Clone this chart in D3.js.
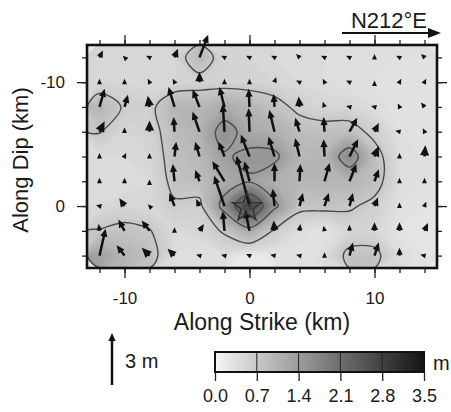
<!DOCTYPE html>
<html>
<head>
<meta charset="utf-8">
<script src="https://cdn.jsdelivr.net/npm/d3@7"></script>
<style>
    body { margin: 0; background: #fff; }
    svg { display: block; font-family: 'Liberation Sans', Arial, Helvetica, sans-serif; }
</style>
</head>
<body>
<div id="chart"></div>
<script>
// grid nodes (km)
const strikeKm = [-12, -10, -8, -6, -4, -2, 0, 2, 4, 6, 8, 10, 12, 14];
const dipKm = [-12, -10, -8, -6, -4, -2, 0, 2, 4];

// slip vector components (m), rows follow dipKm, columns follow strikeKm
const slipStrike = [
    [0.2, -0.1, -0.2, 0.2, 0.5, -0.2, -0.2, -0.2, -0.2, -0.2, -0.2, 0, -0.2, -0.2],
    [0, 0, -0.1, -0.1, 0, 0, 0, 0.1, -0.2, -0.1, -0.2, 0, 0.1, 0.1],
    [0.3, 0.2, -0.1, -0.35, -0.4, -0.3, -0.05, -0.05, -0.05, -0.1, -0.2, -0.2, -0.1, -0.2],
    [0.3, 0, 0, -0.05, -0.4, -0.1, -0.05, -0.3, -0.25, -0.05, 0.45, 0.25, -0.25, -0.1],
    [0, 0.1, 0, 0.1, -0.25, -0.35, -0.5, -0.35, -0.25, -0.05, 0.5, 0.25, 0, 0.05],
    [0, 0, 0, -0.1, -0.25, -0.7, -0.3, 0, 0.05, 0.3, 0.4, 0.25, 0, 0],
    [-0.2, -0.3, -0.1, -0.3, -0.2, -0.6, -0.75, -0.1, 0.2, 0.25, 0.2, 0.2, 0, 0.1],
    [-0.05, -0.35, -0.45, 0, 0.25, -0.1, -0.25, -0.05, 0.05, -0.05, 0, 0, 0, 0.2],
    [0.35, -0.45, -0.45, -0.4, -0.2, -0.2, -0.2, -0.25, -0.2, 0, 0.2, 0.25, 0, -0.25],
];
const slipDip = [
    [-0.4, -0.1, -0.1, -0.5, -1.3, -0.1, -0.1, -0.1, -0.2, -0.1, -0.1, -0.2, -0.1, -0.2],
    [-0.2, -0.2, -0.2, -0.2, -0.6, -0.2, -0.2, -0.3, -0.1, -0.2, -0.1, -0.1, -0.2, -0.2],
    [-1.05, -0.7, -0.65, -1.15, -1.0, -1.15, -1.05, -0.75, -0.6, -0.3, -0.05, -0.05, -0.2, -0.25],
    [-0.6, -0.25, -0.65, -0.85, -1.15, -1.6, -1.35, -1.25, -0.8, -0.85, -0.8, -0.5, -0.05, -0.2],
    [-0.2, -0.2, -0.2, -0.85, -0.85, -0.85, -1.25, -1.15, -1.05, -1.0, -1.0, -0.6, -0.2, -0.65],
    [-0.2, -0.2, -0.1, -1.0, -0.65, -1.15, -1.15, -1.05, -1.0, -1.05, -1.0, -0.7, -0.2, -0.2],
    [-0.05, -0.45, -0.1, -0.75, -0.4, -1.75, -2.9, -1.0, -0.75, -0.75, -0.75, -0.5, -0.2, -0.25],
    [-0.4, -0.65, -0.6, -0.2, -0.4, -1.15, -1.2, -0.6, -0.4, -0.3, -0.35, -0.5, -0.5, -0.45],
    [-1.55, -0.6, -0.45, -0.4, -0.05, -0.05, -0.1, -0.05, -0.05, -0.2, -0.75, -0.75, -0.45, -0.05],
];

// slip amount used for the shading (m)
const slipAmount = [
    [0.5, 0.45, 0.45, 0.5, 0.95, 0.5, 0.5, 0.45, 0.4, 0.4, 0.35, 0.35, 0.35, 0.35],
    [0.45, 0.5, 0.45, 0.5, 0.55, 0.55, 0.55, 0.5, 0.45, 0.4, 0.35, 0.35, 0.3, 0.3],
    [1.0, 0.65, 0.6, 1.0, 1.0, 1.15, 1.0, 0.85, 0.6, 0.5, 0.5, 0.4, 0.3, 0.3],
    [0.72, 0.5, 0.55, 0.9, 1.05, 1.6, 1.2, 1.1, 0.9, 0.85, 0.85, 0.6, 0.35, 0.3],
    [0.4, 0.45, 0.5, 0.85, 0.95, 1.35, 1.5, 1.5, 1.0, 1.0, 1.7, 0.85, 0.4, 0.35],
    [0.4, 0.4, 0.45, 0.8, 0.9, 1.15, 1.35, 1.1, 1.0, 1.0, 1.0, 0.85, 0.4, 0.35],
    [0.45, 0.5, 0.45, 0.65, 0.6, 1.6, 2.8, 1.5, 0.8, 0.8, 0.75, 0.6, 0.35, 0.3],
    [0.72, 0.8, 0.72, 0.45, 0.5, 0.75, 1.2, 0.65, 0.4, 0.3, 0.5, 0.5, 0.3, 0.25],
    [1.3, 1.0, 0.85, 0.4, 0.35, 0.4, 0.2, 0.3, 0.3, 0.4, 0.8, 0.8, 0.4, 0.3],
];

const contourLevels = [0.7, 1.4, 2.1];
const colorTicks = [0.0, 0.7, 1.4, 2.1, 2.8, 3.5];
const xTicks = [-10, 0, 10];
const yTicks = [-10, 0];
const hypocenter = [-0.2, 0.1];
const scaleSlip = 3;

const svg = d3.select('#chart')
    .append('svg')
    .attr('width', 451)
    .attr('height', 412);

const x = d3.scaleLinear().domain([-13, 15]).range([87, 437]);
const y = d3.scaleLinear().domain([-13, 5]).range([45, 268]);
const gridX = d3.scaleLinear().domain([0, strikeKm.length]).range(x.domain());
const gridY = d3.scaleLinear().domain([0, dipKm.length]).range(y.domain());
const shade = d3.scaleLinear().domain([0, 3.5]).range(['#f6f6f6', '#141414']);
const arrowLen = d3.scaleLinear().domain([0, 3]).range([0, 52]);

const defs = svg.append('defs');
defs.append('clipPath').attr('id', 'frame-clip')
    .append('rect')
    .attr('x', x(-13)).attr('y', y(-13))
    .attr('width', x(15) - x(-13)).attr('height', y(5) - y(-13));

// background shading + contours
const flat = slipAmount.flat();
const contourGen = d3.contours().size([strikeKm.length, dipKm.length]);
const ringLine = d3.line()
    .x((p) => x(gridX(p[0])))
    .y((p) => y(gridY(p[1])))
    .curve(d3.curveCatmullRomClosed);
const toPath = (geom) => geom.coordinates
    .map((poly) => poly.map((ring) => ringLine(ring.slice(0, -1))).join(''))
    .join('');

const bg = svg.append('g').attr('clip-path', 'url(#frame-clip)');
bg.append('rect')
    .attr('x', x(-13)).attr('y', y(-13))
    .attr('width', x(15) - x(-13)).attr('height', y(5) - y(-13))
    .attr('fill', shade(d3.min(flat)));
bg.selectAll('path.band')
    .data(contourGen.thresholds(d3.range(0.25, 3.0, 0.05))(flat))
    .join('path')
    .attr('class', 'band')
    .attr('d', (d) => toPath(d))
    .attr('fill', (d) => shade(d.value + 0.025));
bg.selectAll('path.level')
    .data(contourGen.thresholds(contourLevels)(flat))
    .join('path')
    .attr('class', 'level')
    .attr('d', (d) => toPath(d))
    .attr('fill', 'none')
    .attr('stroke', '#4a4a4a')
    .attr('stroke-width', 1.4);

// ticks on all four sides
const minorX = d3.range(-12, 16, 2);
const minorY = d3.range(-12, 6, 2);
const tickLayers = [
    [d3.axisBottom(x).tickValues(minorX).tickSize(5).tickFormat(''), `translate(0,${y(5)})`],
    [d3.axisBottom(x).tickValues(xTicks).tickSize(10).tickPadding(14).tickFormat((d) => String(d)), `translate(0,${y(5)})`],
    [d3.axisTop(x).tickValues(minorX).tickSize(5).tickFormat(''), `translate(0,${y(-13)})`],
    [d3.axisTop(x).tickValues(xTicks).tickSize(10).tickFormat(''), `translate(0,${y(-13)})`],
    [d3.axisLeft(y).tickValues(minorY).tickSize(5).tickFormat(''), `translate(${x(-13)},0)`],
    [d3.axisLeft(y).tickValues(yTicks).tickSize(10).tickPadding(12).tickFormat((d) => String(d)), `translate(${x(-13)},0)`],
    [d3.axisRight(y).tickValues(minorY).tickSize(5).tickFormat(''), `translate(${x(15)},0)`],
    [d3.axisRight(y).tickValues(yTicks).tickSize(10).tickFormat(''), `translate(${x(15)},0)`],
];
tickLayers.forEach(([axis, tr]) => {
    const g = svg.append('g').attr('transform', tr).call(axis);
    g.select('.domain').remove();
    g.selectAll('line').attr('stroke', '#222').attr('stroke-width', 1.3);
    g.selectAll('text')
        .attr('font-family', "'Liberation Sans', Arial, sans-serif")
        .attr('font-size', 17)
        .attr('fill', '#1a1a1a');
});

svg.append('rect')
    .attr('x', x(-13)).attr('y', y(-13))
    .attr('width', x(15) - x(-13)).attr('height', y(5) - y(-13))
    .attr('fill', 'none')
    .attr('stroke', '#111')
    .attr('stroke-width', 2.6);

// slip vectors
function arrowShape(x0, y0, dx, dy) {
    const len = Math.hypot(dx, dy);
    const ux = dx / len, uy = dy / len;
    const head = len > 12 ? 8 : Math.max(5.5, len * 0.9);
    const half = head * 0.45;
    const tx = x0 + dx, ty = y0 + dy;
    const bx = tx - ux * head, by = ty - uy * head;
    return {
        shaft: len > head ? [[x0, y0], [bx + ux, by + uy]] : null,
        head: [[tx, ty], [bx - uy * half, by + ux * half], [bx + uy * half, by - ux * half]],
    };
}

const vectors = dipKm.flatMap((dv, i) => strikeKm.map((sv, j) => ({
    s: sv, d: dv, ds: slipStrike[i][j], dd: slipDip[i][j],
})));

svg.append('g').selectAll('g')
    .data(vectors)
    .join('g')
    .each(function (v) {
        const a = arrowShape(x(v.s), y(v.d), arrowLen(v.ds), arrowLen(v.dd));
        const g = d3.select(this);
        if (a.shaft) {
            g.append('path')
                .attr('d', d3.line()(a.shaft))
                .attr('stroke', '#111')
                .attr('stroke-width', 2.5)
                .attr('fill', 'none');
        }
        g.append('path')
            .attr('d', d3.line()(a.head) + 'Z')
            .attr('fill', '#111');
    });

// hypocenter star
const starPts = d3.range(10).map((k) => [k * Math.PI / 5, k % 2 ? 6 : 15]);
svg.append('path')
    .attr('transform', `translate(${x(hypocenter[0])},${y(hypocenter[1])})`)
    .attr('d', d3.lineRadial().angle((p) => p[0]).radius((p) => p[1]).curve(d3.curveLinearClosed)(starPts))
    .attr('fill', 'none')
    .attr('stroke', '#333')
    .attr('stroke-width', 1.6);
svg.append('circle')
    .attr('cx', x(hypocenter[0])).attr('cy', y(hypocenter[1]))
    .attr('r', 3)
    .attr('fill', 'none')
    .attr('stroke', '#444')
    .attr('stroke-width', 1.2);

// axis titles
svg.append('text')
    .attr('x', (x(-13) + x(15)) / 2).attr('y', 330)
    .attr('text-anchor', 'middle')
    .attr('font-size', 23)
    .attr('fill', '#1a1a1a')
    .text('Along Strike (km)');
svg.append('text')
    .attr('transform', 'translate(28,160) rotate(-90)')
    .attr('text-anchor', 'middle')
    .attr('font-size', 22)
    .attr('fill', '#1a1a1a')
    .text('Along Dip (km)');

// strike direction
svg.append('text')
    .attr('x', 389).attr('y', 28)
    .attr('text-anchor', 'middle')
    .attr('font-size', 22)
    .attr('fill', '#1a1a1a')
    .text('N212°E');
svg.append('line')
    .attr('x1', 342).attr('x2', 430).attr('y1', 33).attr('y2', 33)
    .attr('stroke', '#111').attr('stroke-width', 2);
svg.append('path')
    .attr('d', d3.line()([[441, 33], [428, 28], [428, 38]]) + 'Z')
    .attr('fill', '#111');

// scale arrow
const sa = arrowShape(112, 385, 0, -arrowLen(scaleSlip));
svg.append('path')
    .attr('d', d3.line()(sa.shaft))
    .attr('stroke', '#111').attr('stroke-width', 2.5);
svg.append('path')
    .attr('d', d3.line()(sa.head) + 'Z')
    .attr('fill', '#111');
svg.append('text')
    .attr('x', 125).attr('y', 368)
    .attr('font-size', 20)
    .attr('fill', '#1a1a1a')
    .text(`${scaleSlip} m`);

// colour bar
const cb = d3.scaleLinear().domain([0, 3.5]).range([215, 424]);
const grad = defs.append('linearGradient').attr('id', 'cbar');
grad.selectAll('stop')
    .data(colorTicks)
    .join('stop')
    .attr('offset', (d) => d / 3.5)
    .attr('stop-color', (d) => shade(d));
svg.append('rect')
    .attr('x', cb(0)).attr('y', 352)
    .attr('width', cb(3.5) - cb(0)).attr('height', 20)
    .attr('fill', 'url(#cbar)');
svg.append('g').selectAll('line')
    .data(colorTicks.slice(1, -1))
    .join('line')
    .attr('x1', (d) => cb(d)).attr('x2', (d) => cb(d))
    .attr('y1', 352).attr('y2', 372)
    .attr('stroke', '#222').attr('stroke-width', 1);
svg.append('rect')
    .attr('x', cb(0)).attr('y', 352)
    .attr('width', cb(3.5) - cb(0)).attr('height', 20)
    .attr('fill', 'none')
    .attr('stroke', '#111').attr('stroke-width', 2);
const cbAxis = svg.append('g')
    .attr('transform', 'translate(0,372)')
    .call(d3.axisBottom(cb).tickValues(colorTicks).tickSize(9).tickPadding(8).tickFormat(d3.format('.1f')));
cbAxis.select('.domain').remove();
cbAxis.selectAll('line').attr('stroke', '#222').attr('stroke-width', 1.3);
cbAxis.selectAll('text')
    .attr('font-family', "'Liberation Sans', Arial, sans-serif")
    .attr('font-size', 18)
    .attr('fill', '#1a1a1a');
svg.append('text')
    .attr('x', 433).attr('y', 370)
    .attr('font-size', 20)
    .attr('fill', '#1a1a1a')
    .text('m');
</script>
</body>
</html>
